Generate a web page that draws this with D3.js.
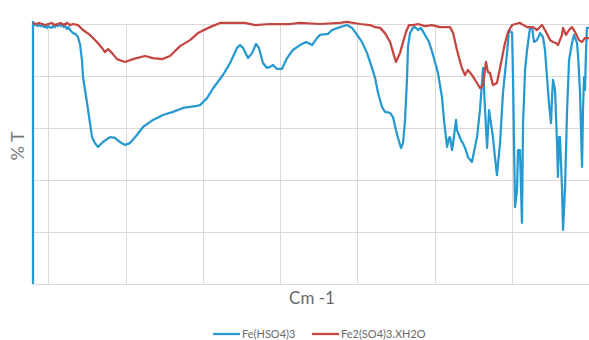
<!DOCTYPE html>
<html>
<head>
<meta charset="utf-8">
<script src="https://cdn.jsdelivr.net/npm/d3@7"></script>
<style>
  html, body { margin: 0; padding: 0; background: #fff; }
  svg { display: block; }
</style>
</head>
<body>
<svg id="chart" width="589" height="340"></svg>
<script>
// ---- Data (wavenumber cm-1, %T) ----
const seriesNames = ["Fe(HSO4)3", "Fe2(SO4)3.XH2O"];
const xTickValues = [4000, 3500, 3000, 2500, 2000, 1500, 1000, 500];
const yTickValues = [0, 20, 40, 60, 80, 100];

const feHSO4 = [
  [4100, 0], [4100, 100.8], [4090, 99.6], [4080, 100], [4070, 99.2], [4060, 99.6], [4050, 99.2],
  [4040, 99.6], [4030, 98.8], [4020, 99.2], [4010, 98.5], [4000, 99.2], [3990, 98.8], [3980, 98.5],
  [3970, 99.2], [3960, 98.8], [3950, 99.6], [3940, 99.2], [3930, 100], [3920, 99.2], [3910, 99.6],
  [3900, 98.8], [3890, 99.2], [3880, 98.1], [3870, 98.8], [3860, 97.7], [3841, 96.5], [3825, 96.2],
  [3809, 95], [3795, 92], [3783, 86.2], [3776, 79.6], [3750, 69.6], [3731, 61.9], [3718, 56.5],
  [3699, 54.2], [3679, 52.7], [3647, 54.6], [3601, 56.5], [3569, 56.2], [3537, 54.6], [3504, 53.5],
  [3472, 54.2], [3427, 57.3], [3388, 60.4], [3323, 63.1], [3258, 65], [3194, 66.2], [3129, 67.7],
  [3038, 68.5], [3019, 68.8], [2973, 71.5], [2935, 75.2], [2870, 80.4], [2824, 85], [2779, 90.8],
  [2760, 91.9], [2740, 90.8], [2708, 86.9], [2682, 88.8], [2656, 92.3], [2637, 90.8], [2611, 85],
  [2585, 83.1], [2565, 83.5], [2546, 84.2], [2520, 82.7], [2488, 82.7], [2455, 86.9], [2417, 90],
  [2371, 91.9], [2332, 93.1], [2293, 91.9], [2261, 94.6], [2242, 95.8], [2190, 96.2], [2164, 97.7],
  [2112, 98.8], [2067, 99.6], [2034, 98.5], [2002, 95.8], [1970, 93.1], [1937, 88.8], [1905, 83.1],
  [1885, 79.2], [1866, 73.5], [1840, 68.1], [1821, 66.2], [1788, 65.8], [1769, 64.2], [1750, 59.2],
  [1737, 56.2], [1717, 52.3], [1704, 54.2], [1691, 63.1], [1678, 79.6], [1672, 91.2], [1659, 96.5],
  [1640, 98.5], [1627, 98.8], [1607, 97.7], [1588, 98.5], [1562, 95.8], [1536, 93.1], [1510, 88.1],
  [1478, 81.2], [1452, 71.9], [1439, 63.1], [1419, 52.7], [1406, 56.2], [1400, 56.5], [1387, 51.5],
  [1380, 54.2], [1361, 63.1], [1355, 59.2], [1342, 57.3], [1323, 54.6], [1316, 54.2], [1297, 51.5],
  [1284, 48.8], [1258, 46.9], [1225, 56.5], [1206, 66.9], [1186, 83.1], [1173, 66.9], [1160, 52.3],
  [1147, 66.9], [1135, 61.9], [1122, 56.5], [1109, 48.8], [1096, 41.9], [1076, 54.2], [1057, 73.5],
  [1031, 88.8], [1018, 97.7], [998, 96.5], [992, 79.6], [979, 29.6], [966, 36.2], [960, 51.5],
  [947, 51.5], [934, 23.5], [927, 61.9], [914, 82.3], [901, 90], [882, 98.5], [869, 98.8],
  [856, 93.1], [837, 93.8], [817, 96.5], [798, 95], [785, 90], [772, 79.6], [759, 69.6], [746, 61.9],
  [739, 71.9], [733, 78.5], [720, 74.6], [707, 54.2], [701, 41.2], [694, 56.5], [688, 56.5],
  [675, 37.3], [668, 20.8], [655, 37.3], [642, 66.9], [629, 86.2], [610, 92.7], [597, 95.8],
  [578, 92.7], [571, 88.1], [558, 73.5], [545, 45], [539, 66.9], [532, 79.6], [526, 74.6],
  [519, 90], [513, 98.5], [500, 98.5]
];

const fe2SO4 = [
  [4100, 100.4], [4080, 100], [4060, 100.4], [4040, 100], [4020, 99.6], [4000, 100], [3980, 100.4],
  [3960, 99.6], [3940, 100], [3920, 100.4], [3900, 99.6], [3880, 100.4], [3860, 99.6], [3840, 100],
  [3809, 99.6], [3776, 97.7], [3731, 95.8], [3686, 93.1], [3653, 90.8], [3634, 89.2], [3614, 90.4],
  [3588, 88.8], [3556, 86.5], [3504, 85.4], [3453, 86.5], [3375, 87.7], [3323, 86.9], [3265, 86.5],
  [3213, 87.7], [3148, 91.5], [3083, 93.8], [3032, 96.5], [3019, 96.9], [2954, 98.8], [2889, 100.4],
  [2824, 100.4], [2727, 100.4], [2663, 99.6], [2565, 100], [2436, 100], [2371, 100.4], [2242, 100],
  [2112, 100.4], [2067, 100.8], [1983, 100], [1918, 99.6], [1885, 98.8], [1853, 98.5], [1821, 96.5],
  [1788, 93.1], [1769, 89.2], [1750, 85.4], [1724, 88.8], [1704, 93.1], [1685, 96.9], [1665, 99.6],
  [1640, 99.6], [1607, 100], [1562, 99.2], [1517, 99.6], [1465, 98.8], [1413, 98.8], [1400, 98.8],
  [1380, 96.5], [1355, 90], [1323, 83.1], [1303, 80.4], [1284, 82.3], [1258, 80.4], [1225, 77.3],
  [1206, 75.4], [1186, 76.5], [1167, 85.4], [1154, 81.5], [1141, 81.2], [1122, 76.5], [1096, 77.3],
  [1076, 83.1], [1044, 92.7], [1024, 96.9], [998, 99.6], [953, 100.4], [947, 100.4], [901, 98.8],
  [862, 98.8], [837, 97.7], [804, 99.6], [778, 96.9], [752, 93.8], [733, 93.1], [714, 92.7],
  [701, 91.9], [675, 95.8], [668, 98.5], [649, 95.8], [629, 97.7], [610, 98.8], [590, 96.9],
  [565, 93.8], [545, 93.1], [526, 94.6], [506, 94.6], [500, 94.6]
];

const colors = ["#2799d1", "#c4453f"];

// ---- Layout ----
const svg = d3.select("#chart");
const plot = { left: 33, right: 589, top: 24, bottom: 284 };

const x = d3.scaleLinear().domain([4100, 500]).range([plot.left, plot.right]);
const y = d3.scaleLinear().domain([0, 100]).range([plot.bottom, plot.top]);

// Gridlines
const grid = svg.append("g");
grid.selectAll("line.h").data(yTickValues).enter().append("line")
  .attr("x1", plot.left).attr("x2", plot.right)
  .attr("y1", d => y(d) + 0.5).attr("y2", d => y(d) + 0.5)
  .attr("stroke", "#d9d9d9").attr("stroke-width", 1);
grid.selectAll("line.v").data(xTickValues).enter().append("line")
  .attr("x1", d => Math.round(x(d)) + 0.5).attr("x2", d => Math.round(x(d)) + 0.5)
  .attr("y1", plot.top).attr("y2", plot.bottom)
  .attr("stroke", "#d9d9d9").attr("stroke-width", 1);

// Lines (first series drawn first, second on top, as in the reference)
const line = d3.line().x(d => x(d[0])).y(d => y(d[1]));
[feHSO4, fe2SO4].forEach((s, i) => {
  svg.append("path").datum(s)
    .attr("d", line)
    .attr("fill", "none")
    .attr("stroke", colors[i])
    .attr("stroke-width", 2.25)
    .attr("stroke-linejoin", "round");
});

// Axis titles
svg.append("text")
  .attr("transform", `translate(24,146) rotate(-90)`)
  .attr("text-anchor", "middle")
  .attr("font-family", "Lato, 'Open Sans', sans-serif")
  .attr("font-size", 18)
  .attr("fill", "#767676")
  .text("% T");

svg.append("text")
  .attr("x", 312).attr("y", 304)
  .attr("text-anchor", "middle")
  .attr("font-family", "Lato, 'Open Sans', sans-serif")
  .attr("font-size", 17)
  .attr("fill", "#6a6a6a")
  .text("Cm -1");

// Legend
const legendItems = [
  { name: seriesNames[0], color: colors[0], x0: 213 },
  { name: seriesNames[1], color: colors[1], x0: 312 }
];
const lg = svg.append("g");
legendItems.forEach(it => {
  lg.append("line")
    .attr("x1", it.x0).attr("x2", it.x0 + 27)
    .attr("y1", 334).attr("y2", 334)
    .attr("stroke", it.color).attr("stroke-width", 2.25);
  lg.append("text")
    .attr("x", it.x0 + 29).attr("y", 338)
    .attr("font-family", "Lato, 'Open Sans', sans-serif")
    .attr("font-size", 11)
    .attr("fill", "#6a6a6a")
    .text(it.name);
});
</script>
</body>
</html>
